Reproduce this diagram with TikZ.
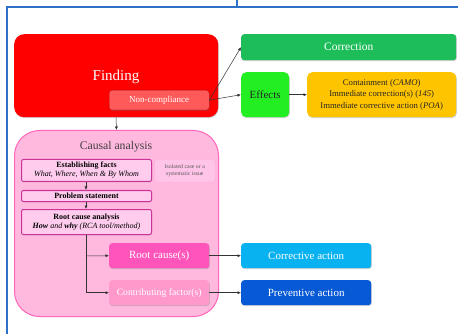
\documentclass[tikz,border=0pt]{standalone}
\usepackage{fontspec}
\setmainfont{Liberation Serif}
\usetikzlibrary{shadows,arrows.meta}
\definecolor{frameblue}{HTML}{2E6FC8}
\definecolor{findred}{HTML}{FF0000}
\definecolor{ncred}{HTML}{FF5A5A}
\definecolor{corrgreen}{HTML}{1DBE5A}
\definecolor{effgreen}{HTML}{22EE22}
\definecolor{effyellow}{HTML}{FFC400}
\definecolor{causefill}{HTML}{FFB8DE}
\definecolor{causedraw}{HTML}{FF66BB}
\definecolor{stepfill}{HTML}{FFCCEE}
\definecolor{stepdraw}{HTML}{CC3399}
\definecolor{rootfill}{HTML}{FF55BB}
\definecolor{contfill}{HTML}{FF99CC}
\definecolor{cyanact}{HTML}{08B2F0}
\definecolor{blueact}{HTML}{0759D6}
\begin{document}
\begin{tikzpicture}[x=1pt,y=-1pt,
  box/.style={rounded corners=3pt, drop shadow={shadow xshift=0.6pt,shadow yshift=-1pt,opacity=0.35}},
  arr/.style={-{Latex[length=3.5pt,width=3pt]}, line width=0.5pt, draw=black!80},
  stepbox/.style={fill=stepfill, draw=stepdraw, line width=1pt, rounded corners=2pt, minimum width=130pt, anchor=north west, align=center, font=\fontsize{8}{9}\selectfont, inner sep=1pt, drop shadow={shadow xshift=0.5pt,shadow yshift=-0.8pt,opacity=0.3}}]
\useasboundingbox (0,0) rectangle (458,334);
\fill[white] (0,0) rectangle (458,334);
% background frame
\draw[frameblue, line width=1.5pt] (7,334) -- (7,7) -- (458,7);
\draw[frameblue, line width=1.2pt] (237,0) -- (237,7);
% Finding
\node[box, fill=findred, rounded corners=10pt, minimum width=204pt, minimum height=83pt, anchor=north west] (finding) at (14,34) {};
\node[text=white, font=\fontsize{15}{17}\selectfont] (findtxt) at (116,77) {Finding};
\node[box, fill=ncred, draw=findred!70!black, line width=0.3pt, minimum width=100pt, minimum height=20pt, anchor=north west, text=white, font=\fontsize{9}{10}\selectfont] (nc) at (109,90) {Non-compliance};
% Correction
\node[box, fill=corrgreen, minimum width=215pt, minimum height=26pt, anchor=north west, text=white, font=\fontsize{11.5}{13}\selectfont] (corr) at (241,34) {Correction};
\node[box, fill=effgreen, rounded corners=5pt, minimum width=48pt, minimum height=45pt, anchor=north west, text=black!85, font=\fontsize{11}{12}\selectfont] (eff) at (241,72) {Effects};
\node[box, fill=effyellow, rounded corners=5pt, minimum width=149pt, minimum height=45pt, anchor=north west, text=black!85, align=center, inner sep=1pt, font=\fontsize{8.7}{11.5}\selectfont] (yel) at (307,72) {Containment (\textit{CAMO})\\Immediate correction(s) (\textit{145})\\Immediate corrective action (\textit{POA})};
\draw[arr] (nc.east) -- (corr.west);
\draw[arr] (nc.east) -- (eff.west);
\draw[arr] (eff.east) -- (yel.west);
% Causal analysis
\node[fill=causefill, draw=causedraw, line width=1pt, rounded corners=25pt, minimum width=204pt, minimum height=186pt, anchor=north west] (cause) at (14,130) {};
\draw[arr] (finding.south -| 116,0) -- (cause.north);
\node[text=black!75, font=\fontsize{11.7}{13}\selectfont] (causetitle) at (116,147) {Causal analysis};
\node[stepbox, minimum height=22pt] (facts) at (21,159) {\textbf{Establishing facts}\\\textit{What, Where, When \& By Whom}};
\node[fill=stepfill!60!causefill, draw=causedraw!50, line width=0.6pt, rounded corners=3pt, minimum width=61pt, minimum height=23pt, anchor=north west, align=center, text=black!65, font=\fontsize{5.8}{6.8}\selectfont, inner sep=1pt] (iso) at (154,159) {Isolated case or a\\systematic issue};
\node[stepbox, minimum height=11pt, font=\fontsize{8}{9}\selectfont\bfseries] (prob) at (21,190) {Problem statement};
\node[stepbox, minimum height=25pt] (rca) at (21,209) {\textbf{Root cause analysis}\\\textbf{\textit{How}} \textit{and} \textbf{\textit{why}} \textit{(RCA tool/method)}};
\draw[arr] (facts.south -| 86,0) -- (prob.north -| 86,0);
\draw[arr] (prob.south -| 86,0) -- (rca.north -| 86,0);
\node[box, fill=rootfill, minimum width=100pt, minimum height=25pt, anchor=north west, text=white, font=\fontsize{11}{12}\selectfont] (root) at (109,243) {Root cause(s)};
\node[box, fill=contfill, minimum width=100pt, minimum height=25pt, anchor=north west, text=white, inner sep=1pt, font=\fontsize{9.7}{11}\selectfont] (cont) at (109,280) {Contributing factor(s)};
\coordinate (split) at (86,256);
\draw[line width=0.5pt, draw=black!80] (rca.south -| 86,0) -- (split);
\draw[arr] (split) -- (root.west);
\draw[arr] (split) |- (cont.west);
% Actions
\node[box, fill=cyanact, minimum width=130pt, minimum height=25pt, anchor=north west, text=white, font=\fontsize{11}{12}\selectfont] (cact) at (241,243) {Corrective action};
\node[box, fill=blueact, minimum width=130pt, minimum height=25pt, anchor=north west, text=white, font=\fontsize{11}{12}\selectfont] (pact) at (241,280) {Preventive action};
\draw[arr] (root.east) -- (cact.west);
\draw[arr] (cont.east) -- (pact.west);
\end{tikzpicture}
\end{document}
